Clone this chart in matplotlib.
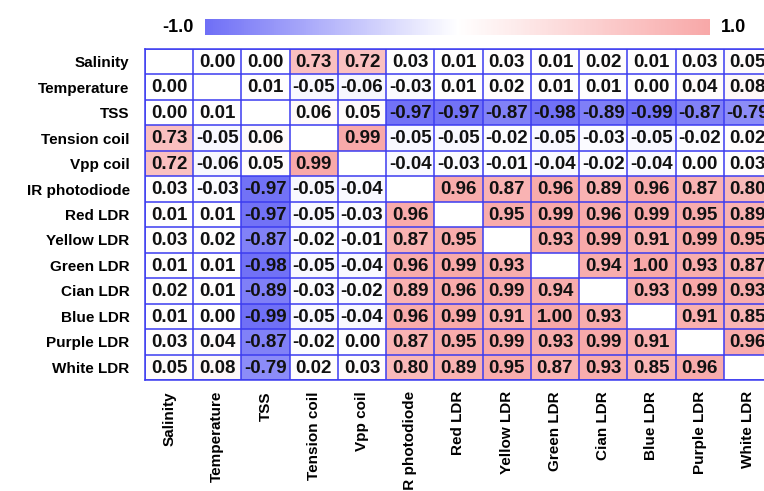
import numpy as np
import matplotlib
matplotlib.use("Agg")
import matplotlib.pyplot as plt
from matplotlib.colors import LinearSegmentedColormap

plt.rcParams['font.family'] = ['Liberation Sans', 'DejaVu Sans']
plt.rcParams['font.weight'] = 'bold'

variables = ["Salinity", "Temperature", "TSS", "Tension coil", "Vpp coil",
             "IR photodiode", "Red LDR", "Yellow LDR", "Green LDR", "Cian LDR",
             "Blue LDR", "Purple LDR", "White LDR"]

nan = np.nan
salinity      = [nan, 0.00, 0.00, 0.73, 0.72, 0.03, 0.01, 0.03, 0.01, 0.02, 0.01, 0.03, 0.05]
temperature   = [0.00, nan, 0.01, -0.05, -0.06, -0.03, 0.01, 0.02, 0.01, 0.01, 0.00, 0.04, 0.08]
tss           = [0.00, 0.01, nan, 0.06, 0.05, -0.97, -0.97, -0.87, -0.98, -0.89, -0.99, -0.87, -0.79]
tension_coil  = [0.73, -0.05, 0.06, nan, 0.99, -0.05, -0.05, -0.02, -0.05, -0.03, -0.05, -0.02, 0.02]
vpp_coil      = [0.72, -0.06, 0.05, 0.99, nan, -0.04, -0.03, -0.01, -0.04, -0.02, -0.04, 0.00, 0.03]
ir_photodiode = [0.03, -0.03, -0.97, -0.05, -0.04, nan, 0.96, 0.87, 0.96, 0.89, 0.96, 0.87, 0.80]
red_ldr       = [0.01, 0.01, -0.97, -0.05, -0.03, 0.96, nan, 0.95, 0.99, 0.96, 0.99, 0.95, 0.89]
yellow_ldr    = [0.03, 0.02, -0.87, -0.02, -0.01, 0.87, 0.95, nan, 0.93, 0.99, 0.91, 0.99, 0.95]
green_ldr     = [0.01, 0.01, -0.98, -0.05, -0.04, 0.96, 0.99, 0.93, nan, 0.94, 1.00, 0.93, 0.87]
cian_ldr      = [0.02, 0.01, -0.89, -0.03, -0.02, 0.89, 0.96, 0.99, 0.94, nan, 0.93, 0.99, 0.93]
blue_ldr      = [0.01, 0.00, -0.99, -0.05, -0.04, 0.96, 0.99, 0.91, 1.00, 0.93, nan, 0.91, 0.85]
purple_ldr    = [0.03, 0.04, -0.87, -0.02, 0.00, 0.87, 0.95, 0.99, 0.93, 0.99, 0.91, nan, 0.96]
white_ldr     = [0.05, 0.08, -0.79, 0.02, 0.03, 0.80, 0.89, 0.95, 0.87, 0.93, 0.85, 0.96, nan]

corr = np.array([salinity, temperature, tss, tension_coil, vpp_coil, ir_photodiode,
                 red_ldr, yellow_ldr, green_ldr, cian_ldr, blue_ldr, purple_ldr, white_ldr])
n = len(variables)

cmap = LinearSegmentedColormap.from_list("bwp", ["#6f6ff6", "#ffffff", "#f8a8a8"])
grid_color = "#3c3cf0"

W, H = 764, 491
fig = plt.figure(figsize=(W / 100, H / 100), dpi=100)
ax = fig.add_axes([145 / W, 1 - 380 / H, 627 / W, 331 / H])

masked = np.ma.masked_invalid(corr)
mesh = ax.pcolormesh(np.arange(n + 1), np.arange(n + 1), masked,
                     cmap=cmap, vmin=-1, vmax=1)
ax.set_xlim(0, n)
ax.set_ylim(n, 0)

ax.hlines(np.arange(n + 1), 0, n, colors=grid_color, linewidth=1.1)
ax.vlines(np.arange(n + 1), 0, n, colors=grid_color, linewidth=1.1)
for s in ax.spines.values():
    s.set_color(grid_color)
    s.set_linewidth(1.1)

for i in range(n):
    for j in range(n):
        v = corr[i, j]
        if np.isnan(v):
            continue
        ax.text(j + 0.5, i + 0.53, f"{v:.2f}", ha="center", va="center",
                fontsize=13.5, fontweight="bold", color="#111111")

ax.set_xticks(np.arange(n) + 0.5)
ax.set_xticklabels(variables, rotation=90, ha="center", va="top",
                   fontsize=11, fontweight="bold")
ax.set_yticks(np.arange(n) + 0.5)
ax.set_yticklabels(variables, fontsize=11, fontweight="bold")
ax.tick_params(axis="x", length=0, pad=8)
ax.tick_params(axis="y", length=0, pad=11)

cax = fig.add_axes([205 / W, 1 - 35 / H, 505 / W, 16 / H])
cb = fig.colorbar(mesh, cax=cax, orientation="horizontal")
cb.outline.set_visible(False)
cax.set_xticks([])
cax.text(-0.022, 0.5, "-1.0", transform=cax.transAxes, ha="right", va="center",
         fontsize=13, fontweight="bold")
cax.text(1.022, 0.5, "1.0", transform=cax.transAxes, ha="left", va="center",
         fontsize=13, fontweight="bold")

fig.savefig("out.png", dpi=100)
